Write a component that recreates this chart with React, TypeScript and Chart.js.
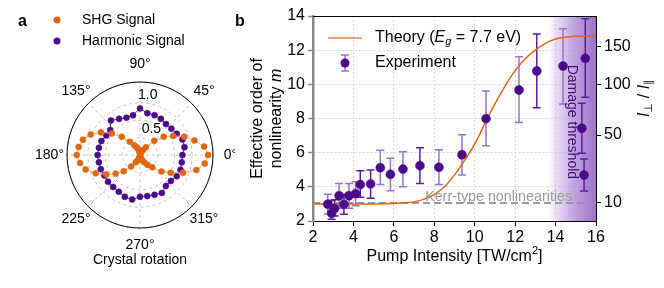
import React, { useEffect, useRef } from 'react';
import { Chart, registerables } from 'chart.js';

Chart.register(...registerables);

const FONT = "'Liberation Sans', Arial, Helvetica, sans-serif";

// ---------------- Panel a : polar data ----------------
const shgAngles = [
  0, 7.5, 15, 22.5, 30, 37.5, 45, 52.5, 60, 67.5, 75, 82.5,
  90, 97.5, 105, 112.5, 120, 127.5, 135, 142.5, 150, 157.5, 165, 172.5,
  180, 187.5, 195, 202.5, 210, 217.5, 225, 232.5, 240, 247.5, 255, 262.5,
  270, 277.5, 285, 292.5, 300, 307.5, 315, 322.5, 330, 337.5, 345, 352.5,
];
const shgValues = [
  0.98, 0.93, 0.81, 0.69, 0.55, 0.43, 0.29, 0.14, 0.08, 0.04, 0.03, 0.03,
  0.04, 0.04, 0.08, 0.12, 0.16, 0.24, 0.37, 0.51, 0.65, 0.77, 0.85, 0.89,
  0.91, 0.87, 0.81, 0.69, 0.56, 0.44, 0.33, 0.21, 0.12, 0.08, 0.04, 0.03,
  0.03, 0.03, 0.04, 0.08, 0.12, 0.18, 0.25, 0.39, 0.51, 0.67, 0.84, 0.94,
];
const harmAngles = [
  0, 10, 20, 30, 40, 50, 60, 70, 80, 90, 100, 110, 120, 130, 140, 150, 160, 170,
  180, 190, 200, 210, 220, 230, 240, 250, 260, 270, 280, 290, 300, 310, 320, 330, 340, 350,
];
const harmValues = [
  0.61, 0.65, 0.65, 0.61, 0.59, 0.58, 0.6, 0.61, 0.61, 0.67, 0.58, 0.57, 0.6, 0.65, 0.56, 0.56, 0.59, 0.6,
  0.61, 0.6, 0.6, 0.59, 0.6, 0.6, 0.61, 0.64, 0.65, 0.6, 0.6, 0.61, 0.63, 0.58, 0.58, 0.61, 0.62, 0.61,
];
const thetaTicks = [0, 45, 90, 135, 180, 225, 270, 315];
const rTickLabels = ['0.5', '1.0'];
const rTickValues = [0.5, 1.0];
const rMax = 1.05;

// ---------------- Panel b : data ----------------
const theoryIntensity = [2, 3, 4, 5, 6, 6.5, 7, 7.5, 8, 8.5, 9, 9.5, 10, 10.5, 11, 11.5, 12, 12.5, 13, 13.5, 14, 14.5, 15, 15.5, 16];
const theoryOrder = [3.0, 3.0, 3.0, 3.0, 3.02, 3.05, 3.12, 3.28, 3.55, 4.0, 4.7, 5.55, 6.5, 7.7, 8.85, 9.9, 10.8, 11.5, 12.0, 12.4, 12.65, 12.76, 12.81, 12.83, 12.83];
const kerrOrder = 3.05;

const expIntensity = [2.73, 2.92, 3.07, 3.29, 3.53, 3.78, 4.11, 4.34, 4.85, 5.33, 5.83, 6.45, 7.29, 8.23, 9.37, 10.56, 12.19, 13.07, 14.37, 15.3, 15.41, 15.47];
const expOrder = [2.98, 2.45, 2.74, 3.48, 2.98, 3.48, 3.6, 4.13, 4.17, 5.12, 4.73, 5.04, 5.24, 5.14, 5.88, 7.99, 9.67, 10.78, 11.07, 7.43, 4.69, 11.52];
const expLow = [2.41, 2.1, 2.3, 2.74, 2.4, 2.74, 2.9, 3.39, 3.33, 4.13, 3.77, 4.0, 4.2, 4.13, 4.69, 6.41, 7.76, 8.63, 8.85, 5.96, 3.76, 9.24];
const expHigh = [3.56, 3.2, 3.25, 4.2, 3.55, 4.2, 4.3, 4.94, 4.98, 6.14, 5.67, 6.06, 6.29, 6.17, 7.05, 9.61, 11.62, 12.95, 13.26, 8.89, 5.63, 13.84];
const expDarkBar = [false, true, true, false, true, false, false, true, true, false, false, false, true, false, false, false, false, true, false, true, true, true];

const ratioTickLabels = ['10', '50', '100', '150'];
const ratioTickOrder = [3.09, 7.03, 10.0, 12.2];
const damageStart = 13.5;

const ORANGE = '#e2660f';
const ORANGE_LIGHT = '#f4a472';
const PURPLE = '#4b0a8c';
const PURPLE_DARKBAR = '#5a1f9e';
const PURPLE_LIGHT = '#9d70d2';

type Run = { t: string; font: string; dy?: number };
function drawRuns(ctx: CanvasRenderingContext2D, runs: Run[], x: number, y: number, align: 'left' | 'center' = 'left') {
  let total = 0;
  for (const r of runs) { ctx.font = r.font; total += ctx.measureText(r.t).width; }
  let cx = align === 'center' ? x - total / 2 : x;
  ctx.textAlign = 'left';
  for (const r of runs) {
    ctx.font = r.font;
    ctx.fillText(r.t, cx, y + (r.dy || 0));
    cx += ctx.measureText(r.t).width;
  }
}

function PolarPanel() {
  const ref = useRef<HTMLCanvasElement>(null);
  useEffect(() => {
    const N = 144;
    const step = 2.5;
    const labels = Array.from({ length: N }, (_, i) => String((360 - i * step) % 360));
    const idxOf = (deg: number) => Math.round(((360 - deg) % 360) / step) % N;
    const shgData: (number | null)[] = new Array(N).fill(null);
    shgAngles.forEach((a, k) => { shgData[idxOf(a)] = shgValues[k]; });
    const harmData: (number | null)[] = new Array(N).fill(null);
    harmAngles.forEach((a, k) => { harmData[idxOf(a)] = harmValues[k]; });

    const decor = {
      id: 'polarDecor',
      afterDraw(chart: any) {
        const ctx: CanvasRenderingContext2D = chart.ctx;
        const s = chart.scales.r;
        ctx.save();
        ctx.strokeStyle = '#000';
        ctx.lineWidth = 1;
        ctx.beginPath();
        ctx.arc(s.xCenter, s.yCenter, s.drawingArea, 0, Math.PI * 2);
        ctx.stroke();
        ctx.fillStyle = '#000';
        ctx.font = `14px ${FONT}`;
        ctx.textAlign = 'center';
        ctx.textBaseline = 'middle';
        for (const d of thetaTicks) {
          const p = s.getPointPosition(idxOf(d), s.drawingArea + 17.5);
          ctx.fillText(`${d}°`, p.x, p.y);
        }
        const la = (96 * Math.PI) / 180;
        rTickValues.forEach((v, k) => {
          const r = s.getDistanceFromCenterForValue(v);
          const px = s.xCenter + r * Math.cos(la) + 15;
          const py = s.yCenter - r * Math.sin(la) + 9;
          ctx.fillText(rTickLabels[k], px, py);
        });
        ctx.fillText('Crystal rotation', s.xCenter, s.yCenter + s.drawingArea + 32);
        // legend
        ctx.textAlign = 'left';
        ctx.fillStyle = ORANGE;
        ctx.beginPath(); ctx.arc(57, 20, 3.5, 0, Math.PI * 2); ctx.fill();
        ctx.fillStyle = PURPLE;
        ctx.beginPath(); ctx.arc(57, 41, 3.5, 0, Math.PI * 2); ctx.fill();
        ctx.fillStyle = '#000';
        ctx.fillText('SHG Signal', 82, 20);
        ctx.fillText('Harmonic Signal', 82, 41);
        ctx.font = `bold 16px ${FONT}`;
        ctx.fillText('a', 18, 22);
        ctx.restore();
      },
    };

    const chart = new Chart(ref.current!, {
      type: 'radar',
      data: {
        labels,
        datasets: [
          {
            label: 'SHG Signal', data: shgData, spanGaps: true, fill: false, tension: 0,
            borderColor: ORANGE_LIGHT, borderWidth: 1,
            pointRadius: 3, pointBackgroundColor: ORANGE, pointBorderColor: ORANGE, pointBorderWidth: 0.6,
          },
          {
            label: 'Harmonic Signal', data: harmData, spanGaps: true, fill: false, tension: 0,
            borderColor: '#6a2aa8', borderWidth: 1,
            pointRadius: 3, pointBackgroundColor: PURPLE, pointBorderColor: PURPLE, pointBorderWidth: 0.6,
          },
        ],
      } as any,
      options: {
        animation: false,
        responsive: false,
        maintainAspectRatio: false,
        layout: { padding: { left: 67, right: 22, top: 82, bottom: 60 } },
        plugins: { legend: { display: false }, tooltip: { enabled: false } },
        scales: {
          r: {
            min: 0, max: rMax, startAngle: 90,
            ticks: { display: false, stepSize: 0.25 },
            pointLabels: { display: false },
            grid: { circular: true, color: '#b5b5b5', lineWidth: 0.8 },
            border: { dash: [3, 3] },
            angleLines: {
              display: true, color: '#b5b5b5', borderDash: [3, 3],
              lineWidth: (c: any) => (c.index % 18 === 0 ? 0.8 : 0),
            },
          },
        },
      } as any,
      plugins: [decor],
    });
    return () => chart.destroy();
  }, []);
  return <canvas ref={ref} width={235} height={288} style={{ position: 'absolute', left: 0, top: 0, width: 235, height: 288 }} />;
}

function OrderPanel() {
  const ref = useRef<HTMLCanvasElement>(null);
  useEffect(() => {
    const decor = {
      id: 'orderDecor',
      beforeDatasetsDraw(chart: any) {
        const ctx: CanvasRenderingContext2D = chart.ctx;
        const { x, y } = chart.scales;
        const a = chart.chartArea;
        ctx.save();
        const x0 = x.getPixelForValue(damageStart);
        const g = ctx.createLinearGradient(x0, 0, a.right, 0);
        g.addColorStop(0, 'rgba(255,255,255,0)');
        g.addColorStop(0.2, 'rgba(210,188,235,0.5)');
        g.addColorStop(0.55, 'rgba(172,134,214,0.75)');
        g.addColorStop(1, 'rgba(145,100,196,0.92)');
        ctx.fillStyle = g;
        ctx.fillRect(x0, a.top, a.right - x0, a.bottom - a.top);
        // error bars
        ctx.lineWidth = 1.5;
        expIntensity.forEach((xi, i) => {
          const px = x.getPixelForValue(xi);
          const pl = y.getPixelForValue(expLow[i]);
          const ph = y.getPixelForValue(expHigh[i]);
          ctx.strokeStyle = expDarkBar[i] ? PURPLE_DARKBAR : PURPLE_LIGHT;
          ctx.beginPath();
          ctx.moveTo(px, pl); ctx.lineTo(px, ph);
          ctx.moveTo(px - 4, pl); ctx.lineTo(px + 4, pl);
          ctx.moveTo(px - 4, ph); ctx.lineTo(px + 4, ph);
          ctx.stroke();
        });
        ctx.restore();
      },
      afterDraw(chart: any) {
        const ctx: CanvasRenderingContext2D = chart.ctx;
        const { x, y } = chart.scales;
        const a = chart.chartArea;
        ctx.save();
        // spines
        ctx.strokeStyle = '#000';
        ctx.lineWidth = 1;
        ctx.beginPath();
        ctx.moveTo(a.left, a.top + 0.5); ctx.lineTo(a.right, a.top + 0.5);
        ctx.moveTo(a.right + 0.5, a.top); ctx.lineTo(a.right + 0.5, a.bottom);
        ctx.stroke();
        // Damage threshold
        ctx.fillStyle = '#3c0a70';
        ctx.font = `14px ${FONT}`;
        ctx.textBaseline = 'middle';
        ctx.save();
        ctx.translate(x.getPixelForValue(14.8), y.getPixelForValue(11.15));
        ctx.rotate(Math.PI / 2);
        ctx.textAlign = 'left';
        ctx.fillText('Damage threshold', 0, 0);
        ctx.restore();
        // Kerr label
        ctx.fillStyle = '#9a9a9a';
        ctx.font = `14.3px ${FONT}`;
        ctx.textAlign = 'right';
        ctx.textBaseline = 'alphabetic';
        ctx.fillText('Kerr-type nonlinearities', x.getPixelForValue(14.82), y.getPixelForValue(kerrOrder) - 2);
        // legend
        const lx = a.left + 15;
        ctx.strokeStyle = ORANGE_LIGHT;
        ctx.lineWidth = 2;
        ctx.beginPath(); ctx.moveTo(lx, a.top + 22); ctx.lineTo(lx + 34, a.top + 22); ctx.stroke();
        ctx.fillStyle = '#000';
        ctx.textBaseline = 'middle';
        const f = `16px ${FONT}`;
        const fi = `italic 16px ${FONT}`;
        const fs = `italic 11px ${FONT}`;
        drawRuns(ctx, [
          { t: 'Theory (', font: f }, { t: 'E', font: fi }, { t: 'g', font: fs, dy: 4 }, { t: ' = 7.7 eV)', font: f },
        ], a.left + 62, a.top + 22);
        const ey = a.top + 47;
        ctx.strokeStyle = PURPLE_LIGHT;
        ctx.lineWidth = 1.5;
        ctx.beginPath();
        ctx.moveTo(lx + 17, ey - 8); ctx.lineTo(lx + 17, ey + 8);
        ctx.moveTo(lx + 13, ey - 8); ctx.lineTo(lx + 21, ey - 8);
        ctx.moveTo(lx + 13, ey + 8); ctx.lineTo(lx + 21, ey + 8);
        ctx.stroke();
        ctx.fillStyle = PURPLE;
        ctx.beginPath(); ctx.arc(lx + 17, ey, 4.5, 0, Math.PI * 2); ctx.fill();
        ctx.fillStyle = '#000';
        ctx.font = f;
        ctx.textAlign = 'left';
        ctx.fillText('Experiment', a.left + 62, ey);
        // x title
        ctx.textBaseline = 'middle';
        drawRuns(ctx, [
          { t: 'Pump Intensity [TW/cm', font: f }, { t: '2', font: `11px ${FONT}`, dy: -6 }, { t: ']', font: f },
        ], (a.left + a.right) / 2, 257, 'center');
        // left y title
        const cy = (a.top + a.bottom) / 2;
        ctx.save();
        ctx.translate(23, cy);
        ctx.rotate(-Math.PI / 2);
        ctx.textAlign = 'center';
        ctx.font = f;
        ctx.fillText('Effective order of', 0, 0);
        drawRuns(ctx, [{ t: 'nonlinearity ', font: f }, { t: 'm', font: fi }], 0, 19, 'center');
        ctx.restore();
        // right y title
        ctx.save();
        ctx.translate(410, 98);
        ctx.rotate(-Math.PI / 2);
        drawRuns(ctx, [
          { t: 'I', font: fi }, { t: '⊥', font: `11px ${FONT}`, dy: 4 }, { t: ' / ', font: f },
          { t: 'I', font: fi }, { t: '∥', font: `11px ${FONT}`, dy: 4 },
        ], 0, 0, 'center');
        ctx.restore();
        // panel label
        ctx.font = `bold 16px ${FONT}`;
        ctx.textAlign = 'left';
        ctx.fillText('b', 0, 22);
        ctx.restore();
      },
    };

    const chart = new Chart(ref.current!, {
      type: 'scatter',
      data: {
        datasets: [
          {
            type: 'scatter', label: 'Experiment', order: 1,
            data: expIntensity.map((v, i) => ({ x: v, y: expOrder[i] })),
            pointRadius: 4.5, pointBackgroundColor: PURPLE, pointBorderColor: PURPLE, pointBorderWidth: 0.5,
          },
          {
            type: 'line', label: 'Theory', order: 2,
            data: theoryIntensity.map((v, i) => ({ x: v, y: theoryOrder[i] })),
            borderColor: ORANGE, borderWidth: 1.5, pointRadius: 0, fill: false,
            cubicInterpolationMode: 'monotone',
          },
          {
            type: 'line', label: 'Kerr', order: 3,
            data: [{ x: 2, y: kerrOrder }, { x: 16, y: kerrOrder }],
            borderColor: 'rgba(150,150,150,0.95)', borderWidth: 2, borderDash: [7, 4], pointRadius: 0, fill: false,
          },
        ],
      } as any,
      options: {
        animation: false,
        responsive: false,
        maintainAspectRatio: false,
        layout: { padding: { left: 0, right: 0, top: 16, bottom: 0 } },
        plugins: { legend: { display: false }, tooltip: { enabled: false } },
        scales: {
          x: {
            type: 'linear', min: 2, max: 16,
            ticks: { stepSize: 2, color: '#000', font: { family: FONT, size: 16 }, padding: 2 },
            grid: { color: '#d8d8d8', lineWidth: 1, tickColor: '#000', tickLength: 5, tickWidth: 1, tickBorderDash: [] },
            border: { color: '#000', width: 1, dash: [2, 2], z: 1 },
            afterFit: (s: any) => { s.height = 67; },
          },
          y: {
            type: 'linear', position: 'left', min: 2, max: 14,
            ticks: { stepSize: 2, color: '#000', font: { family: FONT, size: 16 }, padding: 3 },
            grid: { color: '#d8d8d8', lineWidth: 1, tickColor: '#888', tickLength: 5, tickWidth: 1.5, tickBorderDash: [] },
            border: { color: '#888', width: 2.5, dash: [2, 2], z: 1 },
            afterFit: (s: any) => { s.width = 78; },
          },
          y2: {
            type: 'linear', position: 'right', min: 2, max: 14,
            afterBuildTicks: (s: any) => { s.ticks = ratioTickOrder.map((v) => ({ value: v })); },
            ticks: { color: '#000', font: { family: FONT, size: 16 }, padding: 3, callback: (_v: any, i: number) => ratioTickLabels[i] },
            grid: { drawOnChartArea: false, tickColor: '#000', tickLength: 5, tickWidth: 1 },
            border: { color: '#000', width: 1, z: 1 },
            afterFit: (s: any) => { s.width = 68; },
          },
        },
      } as any,
      plugins: [decor],
    });
    return () => chart.destroy();
  }, []);
  return <canvas ref={ref} width={429} height={288} style={{ position: 'absolute', left: 235, top: 0, width: 429, height: 288 }} />;
}

export default function App() {
  return (
    <div style={{ position: 'fixed', left: 0, top: 0, width: 664, height: 288, background: '#fff', overflow: 'hidden' }}>
      <PolarPanel />
      <OrderPanel />
    </div>
  );
}
